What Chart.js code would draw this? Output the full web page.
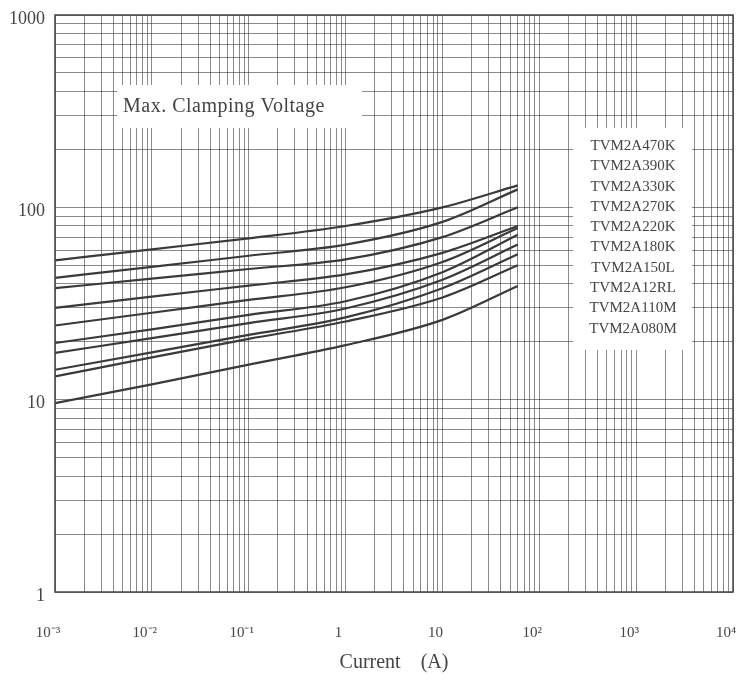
<!DOCTYPE html>
<html>
<head>
<meta charset="utf-8">
<script src="https://cdn.jsdelivr.net/npm/chart.js@4.4.1/dist/chart.umd.min.js"></script>
<style>
  html, body { margin: 0; padding: 0; background: #fff; }
  #wrap { width: 736px; height: 681px; position: relative; }
</style>
</head>
<body>
<div id="wrap"><canvas id="chart"></canvas></div>
<script>
// Data (current in A, clamping voltage in V)
const currents = [0.001, 0.01, 0.1, 1, 10, 60];
const seriesNames = ['TVM2A470K', 'TVM2A390K', 'TVM2A330K', 'TVM2A270K', 'TVM2A220K',
  'TVM2A180K', 'TVM2A150L', 'TVM2A12RL', 'TVM2A110M', 'TVM2A080M'];
const v470K = [53, 60.5, 69, 80, 100, 130];
const v390K = [43, 49, 56, 64, 84, 124];
const v330K = [38, 42.6, 47.8, 53.6, 70, 100];
const v270K = [30, 34.3, 39.2, 44.8, 58, 80];
const v220K = [24.3, 28.3, 33, 38.4, 52, 78];
const v180K = [19.7, 23.2, 27.6, 32.5, 46, 72];
const v150L = [17.5, 20.9, 25, 29.8, 42, 64];
const v12RL = [14.3, 17.6, 21.7, 26.8, 38, 57];
const v110M = [13.2, 16.6, 20.7, 25.5, 34, 50];
const v080M = [9.6, 12, 15.2, 19.2, 26, 39];
const seriesValues = [v470K, v390K, v330K, v270K, v220K, v180K, v150L, v12RL, v110M, v080M];

// Tick labels
const xDecades = [1e-3, 1e-2, 1e-1, 1, 10, 1e2, 1e3, 1e4];
const xDecadeLabels = ['10\u207B\u00B3', '10\u207B\u00B2', '10\u207B\u00B9', '1', '10', '10\u00B2', '10\u00B3', '10\u2074'];
const yDecades = [1, 10, 100, 1000];
const yDecadeLabels = ['1', '10', '100', '1000'];

const annotationText = 'Max. Clamping Voltage';
const xTitle = 'Current    (A)';

const FONT = '"Liberation Serif", "Times New Roman", serif';
const INK = '#444';
const GRID = 'rgba(60,60,60,0.6)';

// 1..9 x 10^n grid ticks
function logTicks(min, max) {
  const t = [];
  const e0 = Math.round(Math.log10(min));
  const e1 = Math.round(Math.log10(max));
  for (let e = e0; e < e1; e++) {
    for (let m = 1; m < 10; m++) t.push({ value: Number((m * Math.pow(10, e)).toPrecision(4)) });
  }
  t.push({ value: max });
  return t;
}

function decadeLabel(value, decades, labels) {
  const i = decades.findIndex(d => Math.abs(Math.log10(d) - Math.log10(value)) < 1e-6);
  return i >= 0 ? labels[i] : '';
}

const datasets = seriesNames.map((name, i) => ({
  label: name,
  data: currents.map((c, j) => ({ x: c, y: seriesValues[i][j] })),
  borderColor: '#3a3a3a',
  borderWidth: 2.2,
  pointRadius: 0,
  fill: false,
  cubicInterpolationMode: 'monotone',
}));

// Boxes, labels and frame
const overlay = {
  id: 'overlay',
  beforeDatasetsDraw(chart) {
    const { ctx } = chart;
    ctx.save();
    ctx.fillStyle = '#fff';
    ctx.fillRect(117, 85, 245, 43);
    ctx.fillRect(573, 128, 119, 222);
    ctx.fillStyle = INK;
    ctx.textBaseline = 'middle';
    ctx.font = '20px ' + FONT;
    ctx.letterSpacing = '0.5px';
    ctx.textAlign = 'left';
    ctx.fillText(annotationText, 123, 107);
    ctx.letterSpacing = '0px';
    ctx.font = '15px ' + FONT;
    ctx.textAlign = 'center';
    seriesNames.forEach((n, i) => ctx.fillText(n, 633, 146 + i * 20.3));
    ctx.restore();
  },
  afterDraw(chart) {
    const { ctx, chartArea: a } = chart;
    ctx.save();
    ctx.strokeStyle = '#444';
    ctx.lineWidth = 1.5;
    ctx.strokeRect(a.left, a.top, a.right - a.left, a.bottom - a.top);
    ctx.restore();
  }
};

new Chart(document.getElementById('chart'), {
  type: 'line',
  data: { datasets },
  options: {
    responsive: true,
    maintainAspectRatio: false,
    animation: false,
    layout: { padding: { top: 15, right: 3, left: 0, bottom: 0 } },
    plugins: { legend: { display: false }, tooltip: { enabled: false } },
    scales: {
      x: {
        type: 'logarithmic',
        min: 1e-3,
        max: 1e4,
        afterBuildTicks: s => { s.ticks = logTicks(1e-3, 1e4); },
        afterFit: s => { s.height = 89; s.paddingLeft = 0; s.paddingRight = 0; },
        grid: { color: GRID, lineWidth: 1, drawTicks: false },
        border: { display: false },
        ticks: {
          autoSkip: false,
          maxRotation: 0,
          padding: 32,
          labelOffset: -7,
          color: INK,
          font: { family: FONT, size: 15 },
          callback: v => decadeLabel(v, xDecades, xDecadeLabels),
        },
        title: {
          display: true,
          text: xTitle,
          color: INK,
          font: { family: FONT, size: 20 },
          padding: { top: 0, bottom: 6 },
        },
      },
      y: {
        type: 'logarithmic',
        min: 1,
        max: 1000,
        afterBuildTicks: s => { s.ticks = logTicks(1, 1000); },
        afterFit: s => { s.width = 55; s.paddingTop = 0; s.paddingBottom = 0; },
        grid: { color: GRID, lineWidth: 1, drawTicks: false },
        border: { display: false },
        ticks: {
          autoSkip: false,
          padding: 10,
          labelOffset: 4,
          color: INK,
          font: { family: FONT, size: 18 },
          callback: v => decadeLabel(v, yDecades, yDecadeLabels),
        },
      },
    },
  },
  plugins: [overlay],
});
</script>
</body>
</html>
